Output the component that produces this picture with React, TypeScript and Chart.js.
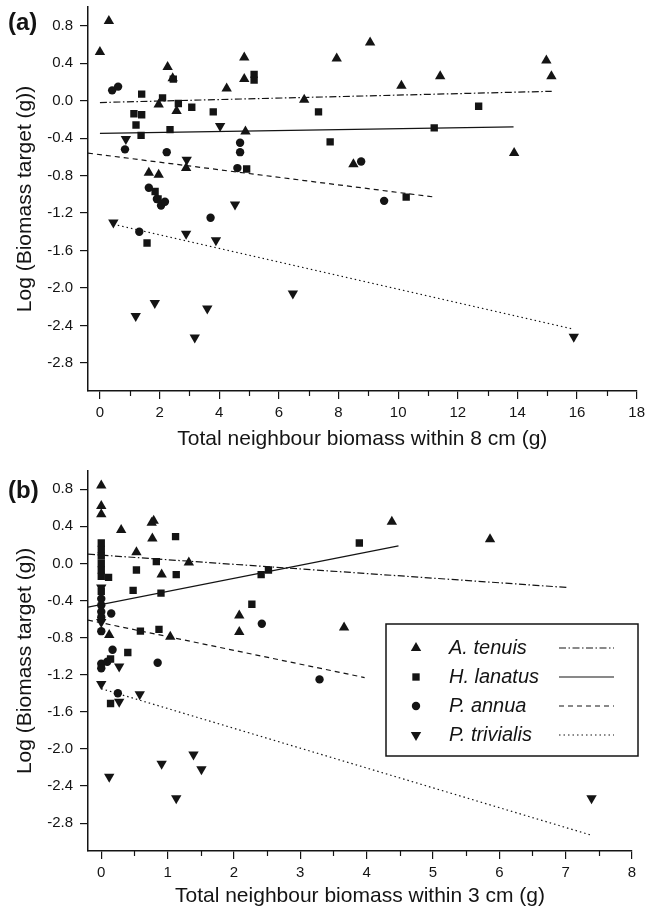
import React, { useEffect, useRef } from "react";
import { Chart, registerables } from "chart.js";

Chart.register(...registerables);

const FONT = "'Liberation Sans', Arial, Helvetica, sans-serif";
const INK = "#141414";

const SPECIES = ["A. tenuis", "H. lanatus", "P. annua", "P. trivialis"];

// ---------- Panel (a): within 8 cm ----------
const A_TEN_X_8 = [0, 0.3, 2.27, 2.44, 1.97, 2.57, 4.25, 4.84, 4.84, 4.88, 6.85, 1.64, 1.97, 2.89, 9.06, 7.94, 10.11, 11.41, 14.97, 15.14, 13.89, 8.5];
const A_TEN_Y_8 = [0.52, 0.85, 0.36, 0.24, -0.04, -0.11, 0.13, 0.46, 0.23, -0.33, 0.01, -0.77, -0.79, -0.72, 0.62, 0.45, 0.16, 0.26, 0.43, 0.26, -0.56, -0.68];
const H_LAN_X_8 = [1.4, 2.1, 2.46, 5.17, 5.17, 1.14, 1.4, 1.21, 1.38, 2.63, 3.08, 3.8, 2.35, 4.92, 1.85, 1.95, 1.58, 7.33, 12.7, 11.21, 7.72, 10.27];
const H_LAN_Y_8 = [0.07, 0.03, 0.23, 0.28, 0.22, -0.14, -0.15, -0.26, -0.37, -0.03, -0.07, -0.12, -0.31, -0.73, -0.97, -1.05, -1.52, -0.12, -0.06, -0.29, -0.44, -1.03];
const P_ANN_X_8 = [0.41, 0.61, 0.84, 2.24, 4.7, 4.7, 4.61, 1.64, 1.91, 2.05, 2.18, 3.71, 1.32, 8.76, 9.53];
const P_ANN_Y_8 = [0.11, 0.15, -0.52, -0.55, -0.45, -0.55, -0.72, -0.93, -1.05, -1.12, -1.08, -1.25, -1.4, -0.65, -1.07];
const P_TRI_X_8 = [0.87, 4.03, 2.91, 4.53, 0.45, 2.89, 3.89, 1.2, 1.84, 3.18, 3.6, 6.47, 15.89];
const P_TRI_Y_8 = [-0.41, -0.27, -0.63, -1.11, -1.3, -1.42, -1.49, -2.3, -2.16, -2.53, -2.22, -2.06, -2.52];

// fitted lines (start, end)
const FIT_X_8 = [[0, 15.15], [0, 13.87], [-0.4, 11.24], [0.45, 15.89]];
const FIT_Y_8 = [[-0.02, 0.1], [-0.35, -0.28], [-0.56, -1.03], [-1.32, -2.44]];

// ---------- Panel (b): within 3 cm ----------
const A_TEN_X_3 = [0, 0, 0, 0.3, 0.76, 0.79, 0.77, 0.53, 0.91, 1.32, 0.12, 1.04, 2.08, 2.08, 4.38, 5.86, 3.66];
const A_TEN_Y_3 = [0.84, 0.62, 0.53, 0.36, 0.44, 0.46, 0.27, 0.12, -0.12, 0.01, -0.77, -0.79, -0.56, -0.74, 0.45, 0.26, -0.69];
const H_LAN_X_3 = [0, 0, 0, 0, 0, 0, 0, 0.11, 1.12, 0.83, 0.53, 1.13, 0.48, 0.9, 0.59, 0.87, 0.4, 0.14, 0.14, 3.89, 2.52, 2.41, 2.27];
const H_LAN_Y_3 = [0.22, 0.15, 0.08, 0.0, -0.07, -0.14, -0.3, -0.15, 0.29, 0.02, -0.07, -0.12, -0.29, -0.32, -0.73, -0.71, -0.96, -1.51, -1.03, 0.22, -0.07, -0.12, -0.44];
const P_ANN_X_3 = [0, 0, 0, 0, 0, 0.15, 0.17, 0.85, 0, 0, 0.09, 0.25, 2.42, 3.29];
const P_ANN_Y_3 = [-0.38, -0.45, -0.52, -0.58, -0.73, -0.54, -0.93, -1.07, -1.08, -1.13, -1.06, -1.4, -0.65, -1.25];
const P_TRI_X_3 = [0, 0.27, 0.27, 0.58, 0.12, 0.91, 1.13, 1.39, 1.51, 7.39, 0, 0];
const P_TRI_Y_3 = [-1.3, -1.11, -1.49, -1.41, -2.3, -2.16, -2.53, -2.06, -2.22, -2.53, -0.26, -0.63];

const FIT_X_3 = [[-0.2, 7.04], [-0.2, 4.48], [-0.2, 3.97], [0, 7.39]];
const FIT_Y_3 = [[0.1, -0.26], [-0.47, 0.19], [-0.61, -1.23], [-1.35, -2.93]];

// ---------- ticks ----------
const Y_TICKS = [-2.8, -2.4, -2.0, -1.6, -1.2, -0.8, -0.4, 0, 0.4, 0.8];
const X_TICKS_8 = [0, 2, 4, 6, 8, 10, 12, 14, 16, 18];
const X_MINOR_8 = [1, 3, 5, 7, 9, 11, 13, 15, 17];
const X_TICKS_3 = [0, 1, 2, 3, 4, 5, 6, 7, 8];
const X_MINOR_3 = [0.5, 1.5, 2.5, 3.5, 4.5, 5.5, 6.5, 7.5];

const MARKERS = [
  { style: "triangle", rotation: 0, radius: 6 },
  { style: "rect", rotation: 0, radius: 5.2 },
  { style: "circle", rotation: 0, radius: 4.2 },
  { style: "triangle", rotation: 180, radius: 6 },
];
const DASHES = [[7, 2.5, 1.5, 2.5], [], [5, 4], [1.5, 3]];

function zip(xs: number[], ys: number[]) {
  return xs.map((x, i) => ({ x, y: ys[i] }));
}

function drawMarker(ctx: CanvasRenderingContext2D, kind: number, x: number, y: number) {
  const m = MARKERS[kind];
  const r = m.radius;
  ctx.beginPath();
  if (m.style === "circle") {
    ctx.arc(x, y, r, 0, Math.PI * 2);
  } else if (m.style === "rect") {
    const s = r * Math.SQRT1_2;
    ctx.rect(x - s, y - s, 2 * s, 2 * s);
  } else {
    const dir = m.rotation === 180 ? -1 : 1;
    const h = r * 0.866;
    ctx.moveTo(x, y - dir * r);
    ctx.lineTo(x - h, y + dir * r / 2);
    ctx.lineTo(x + h, y + dir * r / 2);
    ctx.closePath();
  }
  ctx.fill();
}

const decorPlugin = {
  id: "decor",
  afterDraw(chart: any, _args: any, opts: any) {
    const ctx: CanvasRenderingContext2D = chart.ctx;
    const xs = chart.scales.x;
    ctx.save();
    // minor ticks
    ctx.strokeStyle = INK;
    ctx.lineWidth = 1.2;
    for (const v of opts.minor || []) {
      const px = Math.round(xs.getPixelForValue(v)) + 0.5;
      ctx.beginPath();
      ctx.moveTo(px, xs.top);
      ctx.lineTo(px, xs.top + 5);
      ctx.stroke();
    }
    // panel label
    ctx.fillStyle = INK;
    ctx.font = `bold 24px ${FONT}`;
    ctx.textBaseline = "middle";
    ctx.textAlign = "left";
    ctx.fillText(opts.label, opts.labelX, opts.labelY);
    // legend
    if (opts.legend) {
      const L = opts.legend;
      ctx.fillStyle = "#fff";
      ctx.fillRect(L.left, L.top, L.right - L.left, L.bottom - L.top);
      ctx.strokeStyle = INK;
      ctx.lineWidth = 1.5;
      ctx.strokeRect(L.left, L.top, L.right - L.left, L.bottom - L.top);
      ctx.font = `italic 20px ${FONT}`;
      SPECIES.forEach((name, i) => {
        const y = L.firstRow + i * L.rowGap;
        ctx.fillStyle = INK;
        drawMarker(ctx, i, L.markerX, y);
        ctx.fillText(name, L.textX, y);
        ctx.beginPath();
        ctx.setLineDash(DASHES[i]);
        ctx.lineWidth = 1.2;
        ctx.moveTo(L.lineX0, y);
        ctx.lineTo(L.lineX1, y);
        ctx.stroke();
        ctx.setLineDash([]);
      });
    }
    ctx.restore();
  },
};

type Panel = {
  pts: { x: number; y: number }[][];
  fitX: number[][];
  fitY: number[][];
  xMin: number;
  xMax: number;
  xTicks: number[];
  xMinor: number[];
  xTitle: string;
  label: string;
  height: number;
  padTop: number;
  padRight: number;
  xAxisH: number;
  xTitlePad: number;
  legend?: any;
};

function buildChart(canvas: HTMLCanvasElement, p: Panel) {
  const datasets: any[] = [];
  p.pts.forEach((pts, i) => {
    datasets.push({
      label: SPECIES[i],
      data: pts,
      showLine: false,
      pointStyle: MARKERS[i].style,
      rotation: MARKERS[i].rotation,
      pointRadius: MARKERS[i].radius,
      pointBackgroundColor: INK,
      pointBorderColor: INK,
      pointBorderWidth: 0,
      order: 0,
    });
  });
  p.fitX.forEach((fx, i) => {
    datasets.push({
      label: SPECIES[i] + " fit",
      data: zip(fx, p.fitY[i]),
      showLine: true,
      pointRadius: 0,
      borderColor: INK,
      borderWidth: 1.2,
      borderDash: DASHES[i],
      fill: false,
      order: 1,
    });
  });
  const tickFont = { family: FONT, size: 15 };
  const titleFont = { family: FONT, size: 21 };
  return new Chart(canvas, {
    type: "scatter",
    data: { datasets },
    options: {
      responsive: false,
      animation: false,
      events: [],
      layout: { padding: { left: 0, top: p.padTop, right: p.padRight, bottom: 0 } },
      plugins: {
        legend: { display: false },
        tooltip: { enabled: false },
        decor: {
          minor: p.xMinor,
          label: p.label,
          labelX: 8,
          labelY: p.label === "(a)" ? 23 : 31,
          legend: p.legend,
        },
      } as any,
      scales: {
        x: {
          type: "linear",
          min: p.xMin,
          max: p.xMax,
          afterBuildTicks: (s: any) => {
            s.ticks = p.xTicks.map((v) => ({ value: v }));
          },
          afterFit: (s: any) => {
            s.height = p.xAxisH;
            s.paddingLeft = 0;
            s.paddingRight = 0;
          },
          ticks: {
            font: tickFont,
            color: INK,
            padding: 5,
            maxRotation: 0,
            autoSkip: false,
            callback: (v: any) => String(v),
          },
          grid: { drawOnChartArea: false, drawTicks: true, tickLength: 8, color: INK, lineWidth: 1.2 },
          border: { display: true, color: INK, width: 1.5 },
          title: {
            display: true,
            text: p.xTitle,
            font: titleFont,
            color: INK,
            padding: { top: 0, bottom: p.xTitlePad },
          },
        },
        y: {
          type: "linear",
          min: -3.1,
          max: 1.0,
          afterBuildTicks: (s: any) => {
            s.ticks = Y_TICKS.map((v) => ({ value: v }));
          },
          afterFit: (s: any) => {
            s.width = 88;
            s.paddingTop = 0;
            s.paddingBottom = 0;
          },
          ticks: {
            font: tickFont,
            color: INK,
            padding: 7,
            autoSkip: false,
            callback: (v: any) => Number(v).toFixed(1),
          },
          grid: { drawOnChartArea: false, drawTicks: true, tickLength: 8, color: INK, lineWidth: 1.2 },
          border: { display: true, color: INK, width: 1.5 },
          title: {
            display: true,
            text: "Log (Biomass target (g))",
            font: titleFont,
            color: INK,
            padding: { top: 13, bottom: 0 },
          },
        },
      },
    } as any,
    plugins: [decorPlugin as any],
  });
}

const PANEL_A: Panel = {
  pts: [zip(A_TEN_X_8, A_TEN_Y_8), zip(H_LAN_X_8, H_LAN_Y_8), zip(P_ANN_X_8, P_ANN_Y_8), zip(P_TRI_X_8, P_TRI_Y_8)],
  fitX: FIT_X_8,
  fitY: FIT_Y_8,
  xMin: -0.4,
  xMax: 18,
  xTicks: X_TICKS_8,
  xMinor: X_MINOR_8,
  xTitle: "Total neighbour biomass within 8 cm (g)",
  label: "(a)",
  height: 460,
  padTop: 7,
  padRight: 9.3,
  xAxisH: 69,
  xTitlePad: 8,
};

const PANEL_B: Panel = {
  pts: [zip(A_TEN_X_3, A_TEN_Y_3), zip(H_LAN_X_3, H_LAN_Y_3), zip(P_ANN_X_3, P_ANN_Y_3), zip(P_TRI_X_3, P_TRI_Y_3)],
  fitX: FIT_X_3,
  fitY: FIT_Y_3,
  xMin: -0.2,
  xMax: 8,
  xTicks: X_TICKS_3,
  xMinor: X_MINOR_3,
  xTitle: "Total neighbour biomass within 3 cm (g)",
  label: "(b)",
  height: 455,
  padTop: 10.7,
  padRight: 14,
  xAxisH: 64,
  xTitlePad: 6,
  legend: {
    left: 386,
    top: 164,
    right: 638,
    bottom: 296,
    firstRow: 188,
    rowGap: 29,
    markerX: 416,
    textX: 449,
    lineX0: 559,
    lineX1: 614,
  },
};

function ChartCanvas({ panel, top }: { panel: Panel; top: number }) {
  const ref = useRef<HTMLCanvasElement | null>(null);
  useEffect(() => {
    if (!ref.current) return;
    const c = buildChart(ref.current, panel);
    return () => c.destroy();
  }, [panel]);
  return (
    <canvas
      ref={ref}
      width={646}
      height={panel.height}
      style={{ position: "absolute", left: 0, top, width: 646, height: panel.height }}
    />
  );
}

export default function App() {
  return (
    <div style={{ position: "absolute", left: 0, top: 0, width: 646, height: 915, background: "#fff" }}>
      <ChartCanvas panel={PANEL_A} top={0} />
      <ChartCanvas panel={PANEL_B} top={460} />
    </div>
  );
}
